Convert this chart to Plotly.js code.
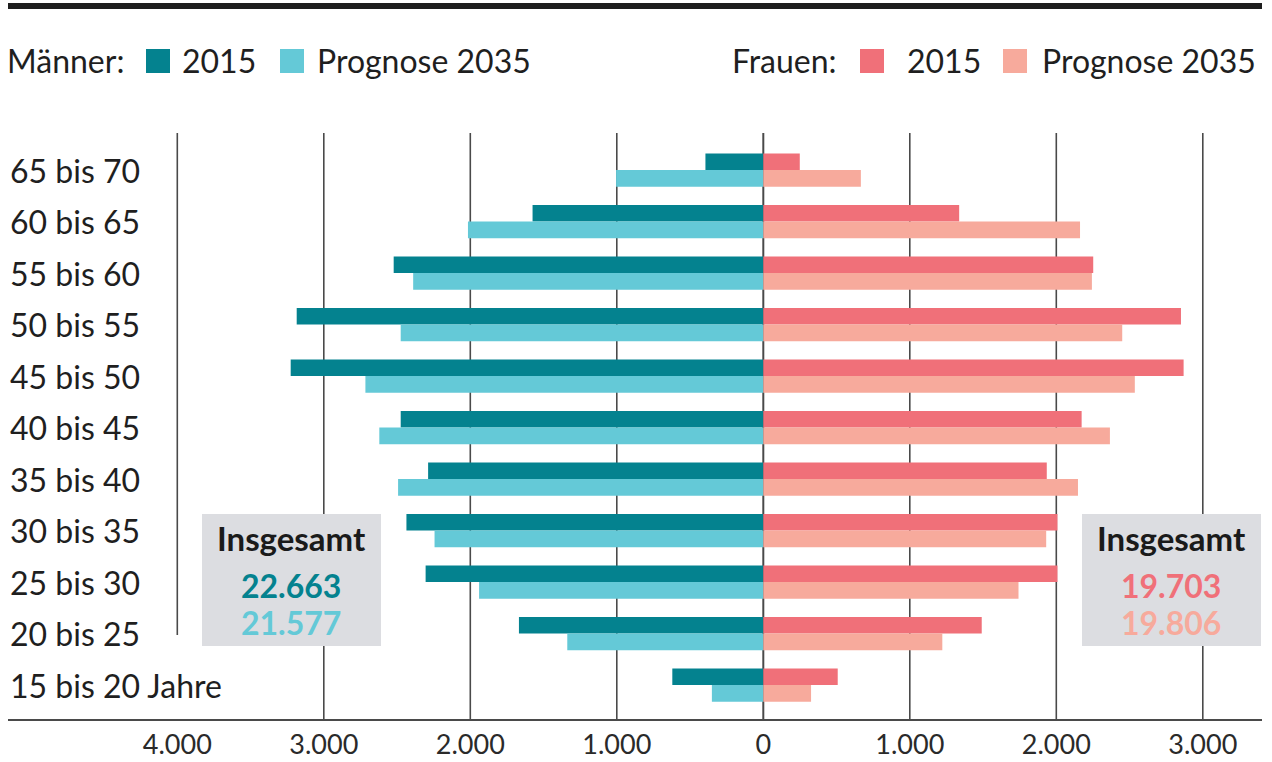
<!DOCTYPE html>
<html>
<head>
<meta charset="utf-8">
<script src="https://cdn.plot.ly/plotly-3.0.1.min.js"></script>
<style>html,body{margin:0;padding:0;background:#fff;}#chart{width:1272px;height:762px;}</style>
</head>
<body>
<div id="chart"></div>
<script>
// Age groups, top to bottom as in the chart
const ageGroups = ["65 bis 70","60 bis 65","55 bis 60","50 bis 55","45 bis 50","40 bis 45","35 bis 40","30 bis 35","25 bis 30","20 bis 25","15 bis 20 Jahre"];
// Values (thousands)
const men2015   = [395, 1575, 2523, 3185, 3226, 2475, 2288, 2436, 2305, 1668, 621];
const men2035   = [1005, 2016, 2390, 2475, 2716, 2621, 2493, 2244, 1940, 1338, 351];
const women2015 = [249, 1337, 2252, 2851, 2869, 2173, 1935, 2008, 2008, 1491, 508];
const women2035 = [666, 2162, 2243, 2450, 2536, 2366, 2148, 1931, 1742, 1222, 326];
const tickVals  = [-4000, -3000, -2000, -1000, 0, 1000, 2000, 3000];
const tickText  = ["4.000", "3.000", "2.000", "1.000", "0", "1.000", "2.000", "3.000"];
const totalsMen   = ["22.663", "21.577"];
const totalsWomen = ["19.703", "19.806"];
const legendMen   = {label: "Männer:", items: ["2015", "Prognose 2035"]};
const legendWomen = {label: "Frauen:", items: ["2015", "Prognose 2035"]};

const C = {m15: "#04828f", m35: "#64c9d7", w15: "#f07079", w35: "#f7aa9c", grid: "#4a4a4a", text: "#1f1f1f", box: "#dcdde1"};
const FONT = "Lato, 'Source Sans Pro', 'Noto Sans', sans-serif";

const W = 1272, H = 762, L = 8, R = 10, T = 133, B = 43;
const PW = W - L - R, PH = H - T - B;
const px = x => (x - L) / PW;
const py = y => 1 - (y - T) / PH;

const BW = 0.323;
function bar(name, vals, sign, color, offset) {
  return {
    type: "bar", orientation: "h", name: name,
    y: ageGroups, x: vals.map(v => sign * v),
    customdata: vals,
    hovertemplate: "%{y}: %{customdata}<extra>" + name + "</extra>",
    marker: {color: color, line: {width: 0}},
    width: BW, offset: offset, showlegend: false
  };
}
const data = [
  bar("Männer 2015", men2015, -1, C.m15, 0),
  bar("Männer Prognose 2035", men2035, -1, C.m35, -BW),
  bar("Frauen 2015", women2015, 1, C.w15, 0),
  bar("Frauen Prognose 2035", women2035, 1, C.w35, -BW)
];

const shapes = [];
// top rule
shapes.push({type: "line", xref: "paper", yref: "paper", x0: px(8), x1: px(1262), y0: py(6), y1: py(6), line: {color: "#1e1e1e", width: 6}});
// gridlines
tickVals.forEach(v => {
  shapes.push({type: "line", xref: "x", yref: "paper", x0: v, x1: v,
    y0: v === -4000 ? py(635) : 0, y1: 1,
    line: {color: C.grid, width: v === 0 ? 2 : 1.6}, layer: "below"});
});
// Insgesamt boxes
shapes.push({type: "rect", xref: "paper", yref: "paper", x0: px(202), x1: px(381), y0: py(646), y1: py(514), fillcolor: C.box, line: {width: 0}, layer: "above"});
shapes.push({type: "rect", xref: "paper", yref: "paper", x0: px(1082), x1: px(1261), y0: py(646), y1: py(514), fillcolor: C.box, line: {width: 0}, layer: "above"});
// legend swatches
const sw = [[146, C.m15], [280, C.m35], [860, C.w15], [1003, C.w35]];
sw.forEach(s => shapes.push({type: "rect", xref: "paper", yref: "paper", x0: px(s[0]), x1: px(s[0] + 24), y0: py(73), y1: py(49), fillcolor: s[1], line: {width: 0}}));

const annotations = [];
function txt(x, y, text, size, color, anchor, bold) {
  annotations.push({xref: "paper", yref: "paper", x: px(x), y: py(y), text: bold ? "<b>" + text + "</b>" : text,
    showarrow: false, xanchor: anchor || "left", yanchor: "middle",
    font: {family: FONT, size: size, color: color}});
}
// legend texts
txt(5, 61, legendMen.label, 32, C.text);
txt(180, 61, legendMen.items[0], 32, C.text);
txt(315, 61, legendMen.items[1], 32, C.text);
txt(730, 61, legendWomen.label, 32, C.text);
txt(905, 61, legendWomen.items[0], 32, C.text);
txt(1040, 61, legendWomen.items[1], 32, C.text);
// age labels
ageGroups.forEach(g => annotations.push({xref: "paper", yref: "y", x: 0, y: g, text: g, showarrow: false,
  xanchor: "left", yanchor: "middle", font: {family: FONT, size: 32, color: C.text}}));
// totals
txt(291, 538, "Insgesamt", 33, "#1a1a1a", "center", true);
txt(291, 585, totalsMen[0], 32, C.m15, "center", true);
txt(291, 622, totalsMen[1], 32, C.m35, "center", true);
txt(1171, 538, "Insgesamt", 33, "#1a1a1a", "center", true);
txt(1171, 585, totalsWomen[0], 32, C.w15, "center", true);
txt(1171, 622, totalsWomen[1], 32, C.w35, "center", true);

const x0 = 763.3;
const scale = 146.5 / 1000;
const layout = {
  width: W, height: H,
  margin: {l: L, r: R, t: T, b: B, pad: 0},
  paper_bgcolor: "#fff", plot_bgcolor: "#fff",
  barmode: "overlay",
  showlegend: false,
  font: {family: FONT, color: C.text},
  xaxis: {
    range: [-(x0 - L) / scale, (W - R - x0) / scale],
    tickvals: tickVals, ticktext: tickText,
    showgrid: false, zeroline: false,
    showline: true, linecolor: C.grid, linewidth: 2,
    ticks: "", ticklabelstandoff: 1,
    tickfont: {family: FONT, size: 27, color: "#2a2a2a"},
    fixedrange: true
  },
  yaxis: {
    type: "category", categoryorder: "array", categoryarray: ageGroups.slice().reverse(),
    range: [-0.66, 10.72], showticklabels: false, showgrid: false, zeroline: false, showline: false,
    fixedrange: true
  },
  shapes: shapes,
  annotations: annotations
};
Plotly.newPlot("chart", data, layout, {displayModeBar: false, staticPlot: false});
</script>
</body>
</html>
